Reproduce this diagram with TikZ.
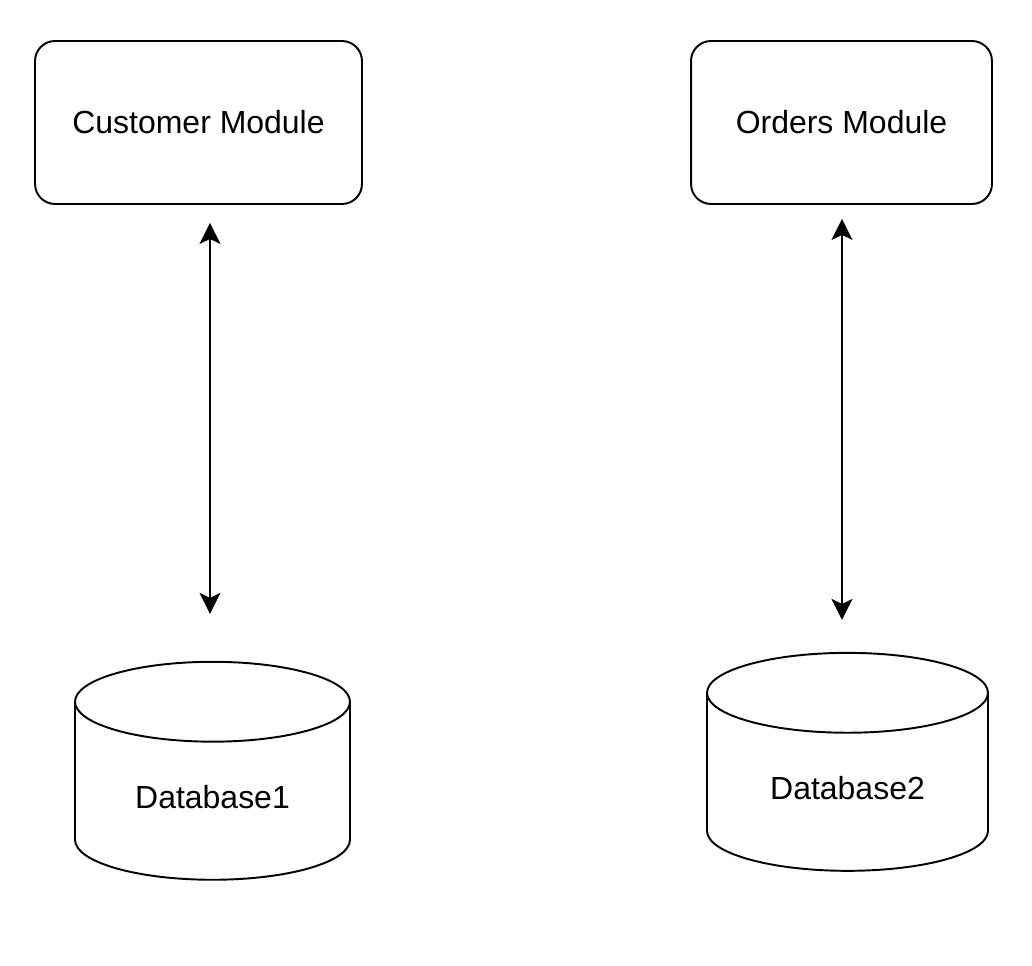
\documentclass[tikz,border=0pt]{standalone}
\usepackage{fontspec}
\setmainfont{Liberation Sans}
\usetikzlibrary{arrows.meta,shapes.geometric}
\tikzset{
	module/.style={draw, line width=1.1pt, rounded corners=0.4cm, minimum height=3.26cm, font=\fontsize{18.2pt}{22pt}\selectfont},
	db/.style={draw, line width=1.1pt, cylinder, shape border rotate=90, aspect=0.48, minimum width=5.5cm, minimum height=4.36cm, font=\fontsize{18.2pt}{22pt}\selectfont},
	link/.style={line width=1pt, {Stealth[length=0.42cm,width=0.42cm,inset=0.1cm]}-{Stealth[length=0.42cm,width=0.42cm,inset=0.1cm]}}
}
\begin{document}
\begin{tikzpicture}[x=0.02cm, y=-0.02cm]
	\useasboundingbox (0, 0) rectangle (1032, 966);
	\node[module, minimum width=6.54cm] (cm) at (198.5, 122.5) {Customer Module};
	\node[module, minimum width=6.02cm] (om) at (841.5, 122.5) {Orders Module};
	\node[db] (db1) at (212.5, 797) {Database1};
	\node[db, minimum width=5.62cm] (db2) at (847.5, 788) {Database2};
	\coordinate (l1) at (210, 0);
	\coordinate (l2) at (842, 0);
	\draw[link, shorten <=0.36cm, shorten >=0.94cm] (cm.south -| l1) -- (db1.north -| l1);
	\draw[link, shorten <=0.28cm, shorten >=0.64cm] (om.south -| l2) -- (db2.north -| l2);
\end{tikzpicture}
\end{document}
